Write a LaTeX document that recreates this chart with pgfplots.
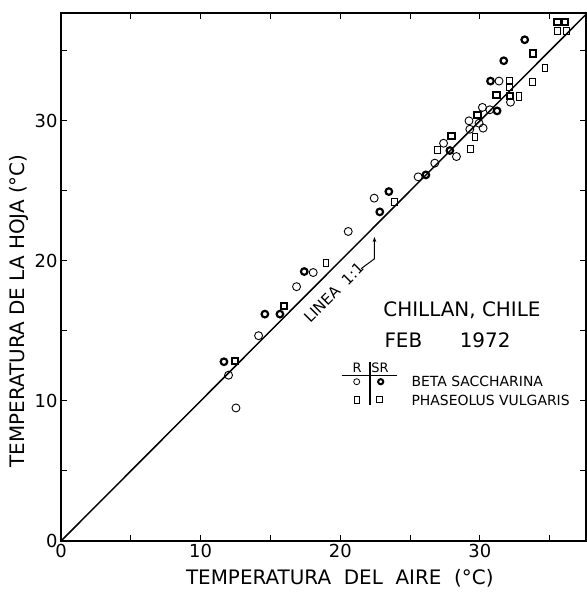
\documentclass[border=0pt]{standalone}
\usepackage{fontspec}
\setmainfont{DejaVu Sans}
\usepackage{pgfplots}
\pgfplotsset{compat=1.18}
\usetikzlibrary{arrows.meta}

% leaf vs air temperature, Chillan Feb 1972
\pgfplotstableread{
x y
12.00 11.84
12.53 9.50
14.15 14.66
16.87 18.16
18.06 19.17
20.57 22.10
22.43 24.48
25.58 26.00
26.77 26.98
27.40 28.40
28.32 27.45
29.22 30.00
29.28 29.40
30.23 29.48
29.94 29.83
30.18 30.96
30.71 30.79
32.19 31.33
31.37 32.84
}\betaR
\pgfplotstableread{
x y
11.67 12.80
14.60 16.20
15.68 16.20
17.42 19.24
22.83 23.50
23.48 24.95
26.13 26.14
27.85 27.88
31.23 30.71
30.76 32.84
31.71 34.29
33.21 35.79
}\betaSR
\pgfplotstableread{
x y
18.97 19.83
23.90 24.20
26.96 27.93
29.64 28.83
29.33 27.98
32.80 31.74
32.14 32.86
32.14 32.40
33.76 32.80
34.65 33.76
35.55 36.43
36.20 36.43
}\phaR
\pgfplotstableread{
x y
12.48 12.84
15.99 16.80
27.97 28.90
29.82 30.43
31.19 31.86
32.14 31.79
33.80 34.80
35.55 37.05
36.08 37.05
}\phaSR

\begin{document}
\begin{tikzpicture}
\begin{axis}[
  scale only axis, width=525bp, height=528bp,
  xmin=0, xmax=37.6, ymin=0, ymax=37.7,
  xtick={0,5,...,35}, ytick={0,5,...,35},
  xticklabels={0,,10,,20,,30,}, yticklabels={0,,10,,20,,30,},
  tick align=inside, major tick length=6bp,
  tick style={black, line width=1pt},
  axis line style={line width=1.3pt},
  /pgf/number format/assume math mode=true,
  tick label style={font=\fontsize{18}{20}\selectfont},
  xlabel={TEMPERATURA \ DEL \ AIRE \ (°C)},
  ylabel={TEMPERATURA DE LA HOJA (°C)},
  label style={font=\fontsize{20}{22}\selectfont},
  xlabel style={at={(axis description cs:0.531,-0.070)}, anchor=center},
  ylabel style={at={(axis description cs:-0.080,0.436)}, anchor=center},
  clip mode=individual,
]
\addplot[black, line width=1.5pt] coordinates {(0,0) (37.6,37.6)};
\addplot[only marks, mark=o, mark size=4pt, mark options={line width=0.9pt}] table {\betaR};
\addplot[only marks, mark=o, mark size=3.3pt, mark options={line width=2.2pt}] table {\betaSR};
\addplot[only marks, mark=square, mark size=3.6pt, mark options={line width=0.9pt, xscale=0.8}] table {\phaR};
\addplot[only marks, mark=square, mark size=3.2pt, mark options={line width=2pt}] table {\phaSR};

\node[rotate=45, font=\fontsize{15}{17}\selectfont] at (axis cs:19.54,17.75) {LINEA \ 1:1};
\draw[line width=1pt, -{Stealth[length=5bp]}] (axis cs:21.5,19.45) -- (axis cs:22.45,20.15) -- (axis cs:22.45,21.7);
\end{axis}

\begin{scope}[shift={(current axis.south west)}, x=1bp, y=1bp]
  \node[font=\fontsize{20}{22}\selectfont] at (401,230.5) {CHILLAN, CHILE};
  \node[anchor=west, font=\fontsize{20}{22}\selectfont] at (320,200.5) {FEB};
  \node[anchor=east, font=\fontsize{20}{22}\selectfont] at (453,200.5) {1972};
  \node[font=\fontsize{13}{15}\selectfont] at (296,173) {R};
  \node[font=\fontsize{13}{15}\selectfont] at (319,173) {SR};
  \draw[line width=1pt] (280.7,166) -- (336.3,166);
  \draw[line width=1.2pt] (309,179.3) -- (309,136);
  \draw[line width=0.8pt] (295.7,159.3) circle (3bp);
  \draw[line width=2pt] (319.7,159.3) circle (2.6bp);
  \draw[line width=0.8pt] (293,137.5) rectangle (298.4,144.5);
  \draw[line width=1.8pt] (315.5,138.5) rectangle (321.5,144.5);
  \node[anchor=west, font=\fontsize{14}{16}\selectfont] at (347,159.3) {BETA SACCHARINA};
  \node[anchor=west, font=\fontsize{14}{16}\selectfont] at (347,141) {PHASEOLUS VULGARIS};
\end{scope}

\pgfresetboundingbox
\path[use as bounding box] ([shift={(-61bp,-57bp)}]current axis.south west) rectangle ([shift={(1bp,13bp)}]current axis.north east);
\end{tikzpicture}
\end{document}
